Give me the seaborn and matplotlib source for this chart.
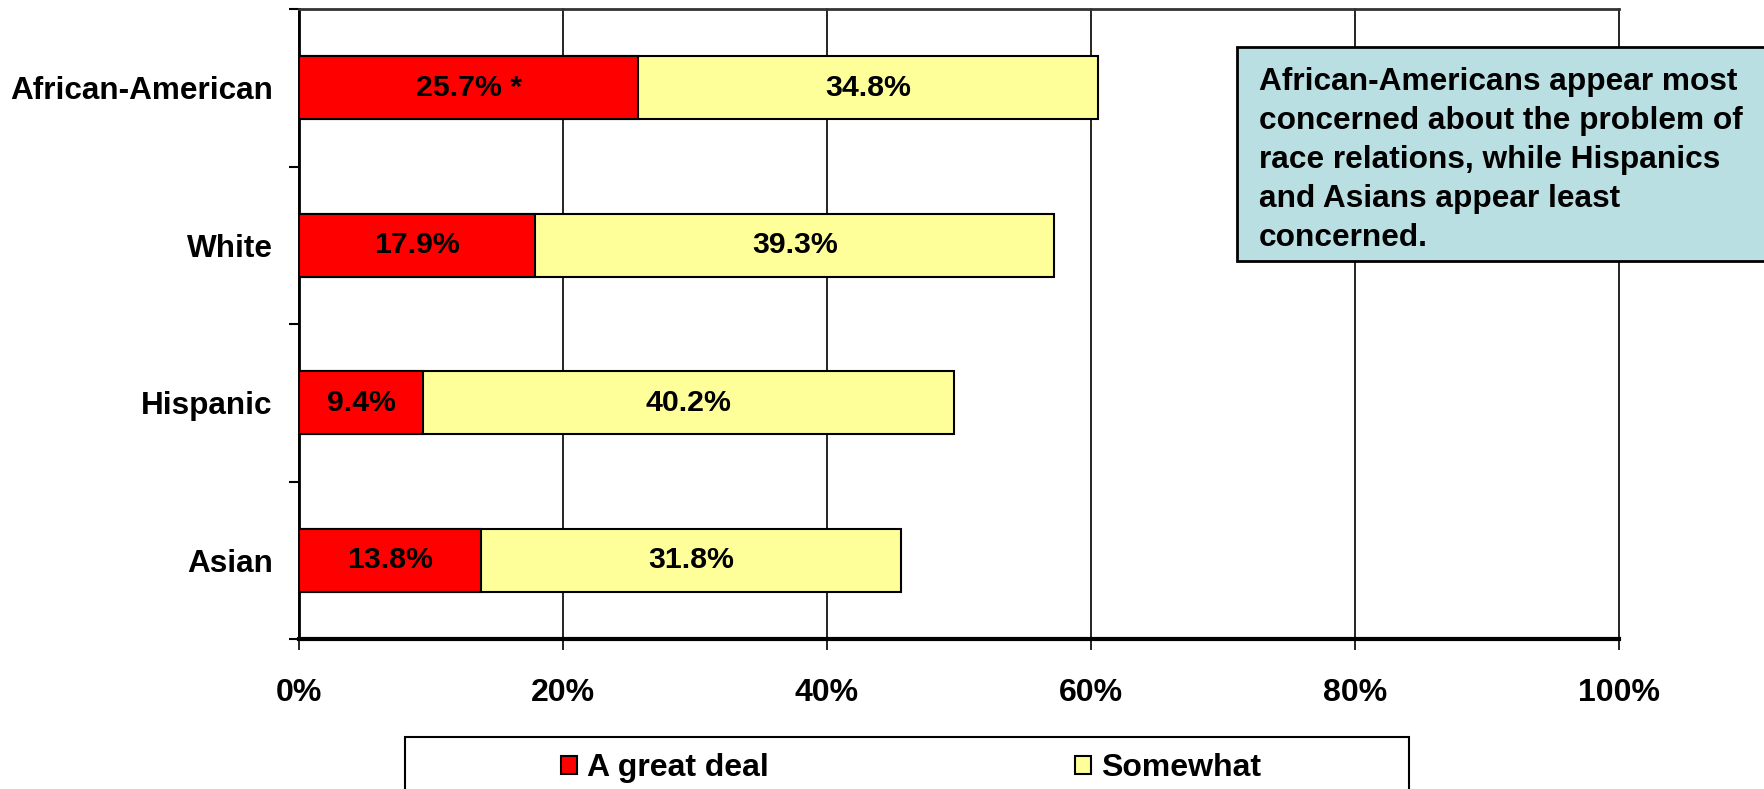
import numpy as np
import pandas as pd
import matplotlib
matplotlib.use("Agg")
import matplotlib.pyplot as plt
import seaborn as sns
from matplotlib.patches import Rectangle, Patch

groups = ["African-American", "White", "Hispanic", "Asian"]
great_deal = [25.7, 17.9, 9.4, 13.8]
somewhat = [34.8, 39.3, 40.2, 31.8]
great_labels = ["25.7% *", "17.9%", "9.4%", "13.8%"]
somewhat_labels = ["34.8%", "39.3%", "40.2%", "31.8%"]
x_ticks = [0, 20, 40, 60, 80, 100]
note = ("African-Americans appear most\n"
        "concerned about the problem of\n"
        "race relations, while Hispanics\n"
        "and Asians appear least\n"
        "concerned.")

RED = "#FF0000"
YELLOW = "#FFFF99"
BOX = "#B9DFE3"

sns.set_style("white")
plt.rcParams["font.family"] = ["Liberation Sans", "DejaVu Sans"]
plt.rcParams["font.weight"] = "bold"
for key in ["text.color", "axes.labelcolor", "xtick.color", "ytick.color"]:
    plt.rcParams[key] = "black"

df = pd.DataFrame({"group": groups, "great": great_deal, "some": somewhat})
df["total"] = df["great"] + df["some"]

fig = plt.figure(figsize=(17.64, 7.89), dpi=100)
ax = fig.add_axes([299 / 1764, 1 - 639 / 789, 1320 / 1764, 630 / 789])

sns.barplot(data=df, y="group", x="total", color=YELLOW, saturation=1,
            edgecolor="black", linewidth=1.5, width=0.4, errorbar=None,
            orient="h", ax=ax, zorder=3)
sns.barplot(data=df, y="group", x="great", color=RED, saturation=1,
            edgecolor="black", linewidth=1.5, width=0.4, errorbar=None,
            orient="h", ax=ax, zorder=3)

for i, row in df.iterrows():
    ax.text(row["great"] / 2, i, great_labels[i], ha="center", va="center",
            fontsize=21.8, fontweight="bold", zorder=5)
    ax.text(row["great"] + row["some"] / 2, i, somewhat_labels[i],
            ha="center", va="center", fontsize=21.8, fontweight="bold", zorder=5)

ax.set_xlim(0, 100)
ax.set_ylim(len(groups) - 0.5, -0.5)
ax.set_xticks(x_ticks)
ax.set_xticklabels([f"{t}%" for t in x_ticks], fontsize=23, fontweight="bold")
ax.set_yticks(range(len(groups)))
ax.set_yticklabels(groups, fontsize=22.7, fontweight="bold")
ax.set_yticks(np.arange(-0.5, len(groups)), minor=True)
ax.set_xlabel("")
ax.set_ylabel("")

ax.tick_params(axis="y", which="major", length=0, pad=19)
ax.tick_params(axis="y", which="minor", length=7, width=1.5, direction="out",
               color="black", left=True)
ax.tick_params(axis="x", which="major", length=8, width=1.2, direction="out",
               color="black", pad=20, bottom=True)

ax.xaxis.grid(True, color="black", linewidth=1.2)
ax.yaxis.grid(False)
ax.set_axisbelow(True)
for gl in ax.get_xgridlines():
    gl.set_clip_on(False)

ax.spines["right"].set_visible(False)
ax.spines["top"].set_visible(True)
ax.spines["top"].set_color("#333333")
ax.spines["top"].set_linewidth(2)
ax.spines["left"].set_color("black")
ax.spines["left"].set_linewidth(2)
ax.spines["bottom"].set_color("black")
ax.spines["bottom"].set_linewidth(3)

# note box at upper right, running off the figure edge
fig.patches.append(Rectangle((1237 / 1764, 1 - 261 / 789), 0.4, 214 / 789,
                             transform=fig.transFigure, facecolor=BOX,
                             edgecolor="black", linewidth=2, zorder=4))
fig.text(1259 / 1764, 1 - 67 / 789, note, ha="left", va="top",
         fontsize=22.8, fontweight="bold", linespacing=1.39, zorder=6)

# legend box at the bottom
fig.patches.append(Rectangle((405 / 1764, -0.05), 1004 / 1764, 0.05 + 52 / 789,
                             transform=fig.transFigure, facecolor="white",
                             edgecolor="black", linewidth=1.5, zorder=4))
handles = [Patch(facecolor=RED, edgecolor="black", linewidth=1.5),
           Patch(facecolor=YELLOW, edgecolor="black", linewidth=1.5)]
leg = fig.legend(handles, ["A great deal", "Somewhat"], ncol=2,
                 loc="center", bbox_to_anchor=(911 / 1764, 1 - 768 / 789),
                 frameon=False, handlelength=0.5,
                 handleheight=0.5, handletextpad=0.3, columnspacing=9.6,
                 prop={"weight": "bold", "size": 23})
leg.set_zorder(6)

fig.savefig("out.png", dpi=100)
